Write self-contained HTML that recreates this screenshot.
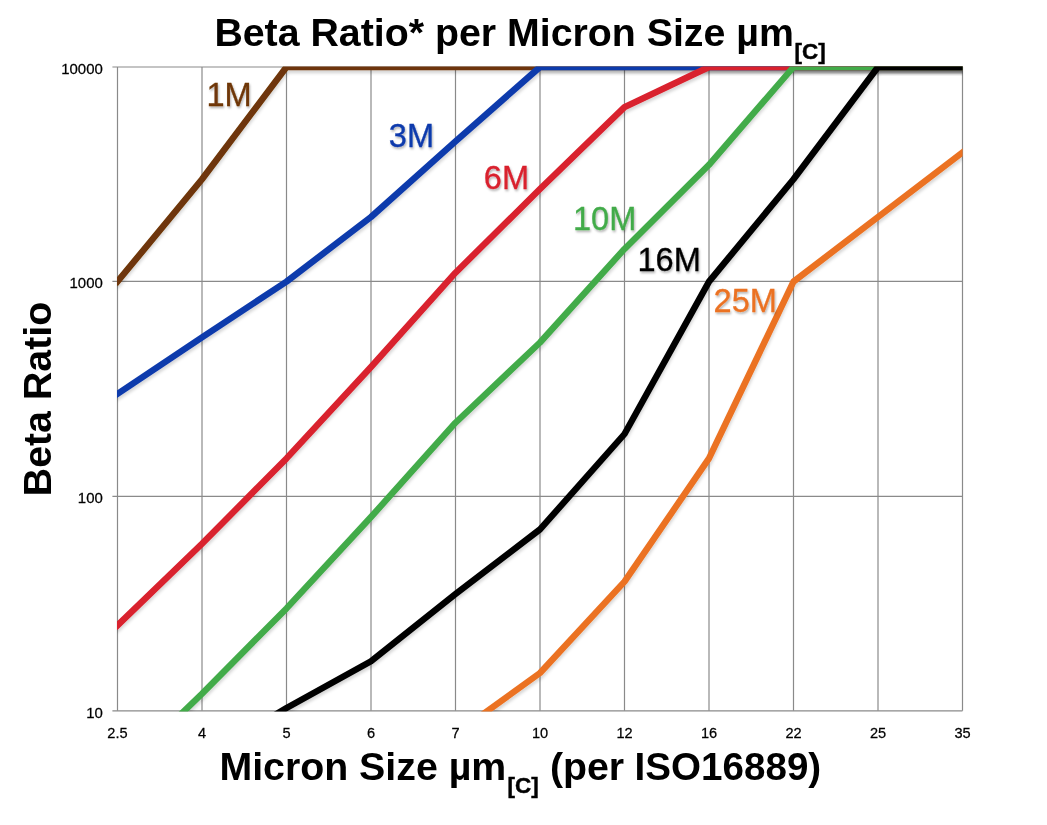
<!DOCTYPE html>
<html lang="en"><head><meta charset="utf-8"><title>Beta Ratio per Micron Size</title>
<style>
html,body{margin:0;padding:0;background:#fff}
body{width:1047px;height:825px;overflow:hidden;font-family:"Liberation Sans",sans-serif}
svg{display:block}
.t{font-family:"Liberation Sans",sans-serif;font-weight:bold;fill:#000}
.k{font-family:"Liberation Sans",sans-serif;fill:#000;font-size:15.2px;stroke:#000;stroke-width:0.25px}
tspan.sb{font-size:22.4px;stroke:#000;stroke-width:0.45px}
.s{font-family:"Liberation Sans",sans-serif;font-size:33.6px;text-anchor:end;stroke-width:0.3px}
</style></head><body>
<svg width="1047" height="825" viewBox="0 0 1047 825">
<defs>
<clipPath id="pc"><rect x="117" y="66.4" width="845.6" height="645"/></clipPath>
<filter id="sh" filterUnits="userSpaceOnUse" x="100" y="50" width="880" height="680"><feDropShadow dx="0.4" dy="3" stdDeviation="1.5" flood-color="#000" flood-opacity="0.16"/></filter>
<filter id="ts" x="-10%" y="-20%" width="120%" height="150%"><feDropShadow dx="1" dy="1.8" stdDeviation="1.3" flood-color="#000" flood-opacity="0.3"/></filter>
</defs>
<rect width="1047" height="825" fill="#fff"/>
<g stroke="#8a8a8a" stroke-width="1.2" fill="none">
<line x1="117.5" y1="67.0" x2="117.5" y2="710.8"/>
<line x1="202.0" y1="67.0" x2="202.0" y2="710.8"/>
<line x1="286.5" y1="67.0" x2="286.5" y2="710.8"/>
<line x1="371.0" y1="67.0" x2="371.0" y2="710.8"/>
<line x1="455.5" y1="67.0" x2="455.5" y2="710.8"/>
<line x1="540.0" y1="67.0" x2="540.0" y2="710.8"/>
<line x1="624.5" y1="67.0" x2="624.5" y2="710.8"/>
<line x1="709.0" y1="67.0" x2="709.0" y2="710.8"/>
<line x1="793.5" y1="67.0" x2="793.5" y2="710.8"/>
<line x1="878.0" y1="67.0" x2="878.0" y2="710.8"/>
<line x1="962.5" y1="67.0" x2="962.5" y2="710.8"/>
<line x1="112.4" y1="67.0" x2="962.5" y2="67.0"/>
<line x1="112.4" y1="281.4" x2="962.5" y2="281.4"/>
<line x1="112.4" y1="496.4" x2="962.5" y2="496.4"/>
<line x1="112.4" y1="710.8" x2="962.5" y2="710.8"/>
</g>
<g clip-path="url(#pc)"><g fill="none" stroke-width="6.4" stroke-linejoin="round" stroke-linecap="square">
<polyline filter="url(#sh)" stroke="#6E3607" points="117.5,281.6 202.0,179.2 286.5,67.0 371.0,67.0 455.5,67.0 540.0,67.0 624.5,67.0 709.0,67.0 793.5,67.0 878.0,67.0 962.5,67.0"/>
<polyline filter="url(#sh)" stroke="#0D3AAC" points="117.5,393.8 202.0,337.3 286.5,281.6 371.0,217.0 455.5,141.4 540.0,67.0 624.5,67.0 709.0,67.0 793.5,67.0 878.0,67.0 962.5,67.0"/>
<polyline filter="url(#sh)" stroke="#D9202D" points="117.5,625.4 202.0,543.8 286.5,458.4 371.0,367.0 455.5,272.7 540.0,189.0 624.5,107.1 709.0,67.0 793.5,67.0 878.0,67.0 962.5,67.0"/>
<polyline filter="url(#sh)" stroke="#42AB49" points="117.5,775.4 202.0,693.8 286.5,608.4 371.0,517.0 455.5,422.7 540.0,342.5 624.5,248.9 709.0,164.8 793.5,67.0 878.0,67.0 962.5,67.0"/>
<polyline filter="url(#sh)" stroke="#000000" points="202.0,758.4 286.5,708.0 371.0,661.3 455.5,594.0 540.0,529.4 624.5,434.0 709.0,281.6 793.5,179.2 878.0,67.0 962.5,67.0"/>
<polyline filter="url(#sh)" stroke="#EB7223" points="455.5,734.0 540.0,673.0 624.5,581.6 709.0,458.4 793.5,281.6 878.0,217.0 962.5,152.4"/>
</g></g>
<g class="s" filter="url(#ts)">
<text transform="translate(251.7,105.8) scale(0.97,1)" fill="#6E3607" stroke="#6E3607">1M</text>
<text transform="translate(434.1,147.0) scale(0.97,1)" fill="#0D3AAC" stroke="#0D3AAC">3M</text>
<text transform="translate(529.1,189.0) scale(0.97,1)" fill="#D9202D" stroke="#D9202D">6M</text>
<text transform="translate(636.3,229.8) scale(0.97,1)" fill="#42AB49" stroke="#42AB49">10M</text>
<text transform="translate(700.8,270.9) scale(0.97,1)" fill="#000" stroke="#000">16M</text>
<text transform="translate(776.9,312.0) scale(0.97,1)" fill="#EB7223" stroke="#EB7223">25M</text>
</g>
<g class="k" text-anchor="end">
<text transform="translate(102.8,74.0) scale(0.985,1)">10000</text>
<text transform="translate(102.8,288.4) scale(0.985,1)">1000</text>
<text transform="translate(102.8,503.4) scale(0.985,1)">100</text>
<text transform="translate(102.8,717.8) scale(0.985,1)">10</text>
</g><g class="k" text-anchor="middle">
<text transform="translate(117.5,737.6) scale(0.96,1)">2.5</text>
<text transform="translate(202.0,737.6) scale(0.96,1)">4</text>
<text transform="translate(286.5,737.6) scale(0.96,1)">5</text>
<text transform="translate(371.0,737.6) scale(0.96,1)">6</text>
<text transform="translate(455.5,737.6) scale(0.96,1)">7</text>
<text transform="translate(540.0,737.6) scale(0.96,1)">10</text>
<text transform="translate(624.5,737.6) scale(0.96,1)">12</text>
<text transform="translate(709.0,737.6) scale(0.96,1)">16</text>
<text transform="translate(793.5,737.6) scale(0.96,1)">22</text>
<text transform="translate(878.0,737.6) scale(0.96,1)">25</text>
<text transform="translate(962.5,737.6) scale(0.96,1)">35</text>
</g>
<g class="t" font-size="39.3">
<text x="214.4" y="45.8">Beta Ratio* per Micron Size µm<tspan class="sb" x="794.6" y="58.5">[C]</tspan></text>
<text x="219.4" y="780.2">Micron Size µm<tspan class="sb" x="507.5" y="792.8">[C]</tspan></text>
<text x="549.9" y="780.2">(per</text>
<text x="634.6" y="780.2" textLength="186.6" lengthAdjust="spacingAndGlyphs">ISO16889)</text>
<text transform="translate(51.2,496.2) rotate(-90)">Beta Ratio</text>
</g>
</svg></body></html>
